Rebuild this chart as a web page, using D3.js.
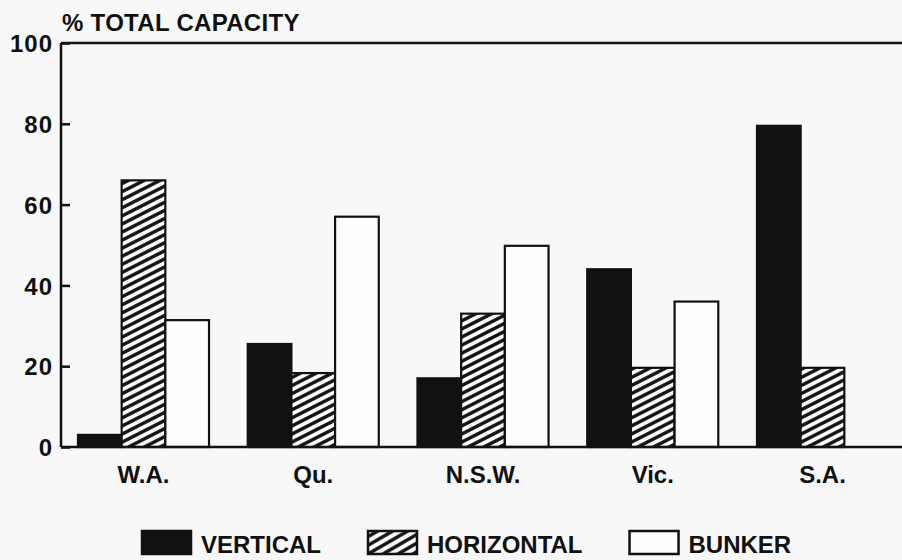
<!DOCTYPE html>
<html>
<head>
<meta charset="utf-8">
<script src="https://cdn.jsdelivr.net/npm/d3@7"></script>
<style>
  html, body { margin: 0; padding: 0; background: #f8f8f8; }
  svg { display: block; }
  text { font-family: "Liberation Sans", Arial, sans-serif; font-weight: bold; fill: #111; }
</style>
</head>
<body>
<svg id="chart" width="902" height="560"></svg>
<script>
const categories = ["W.A.", "Qu.", "N.S.W.", "Vic.", "S.A."];
const seriesNames = ["VERTICAL", "HORIZONTAL", "BUNKER"];
const vertical   = [3, 25.5, 17, 44, 79.5];
const horizontal = [66, 18.3, 33, 19.6, 19.6];
const bunker     = [31.4, 57, 49.8, 36, 0];
const yTicks = [0, 20, 40, 60, 80, 100];
const yTitle = "% TOTAL CAPACITY";

(function () {
const seriesValues = [vertical, horizontal, bunker];

const svg = d3.select("#chart");
const W = 902, H = 560;
const mLeft = 61, mRight = 905, mTop = 43, mBottom = 447;

// patterns
const defs = svg.append("defs");
function hatch(id, period, sw, angle) {
  const p = defs.append("pattern")
    .attr("id", id)
    .attr("patternUnits", "userSpaceOnUse")
    .attr("width", 10).attr("height", period)
    .attr("patternTransform", `rotate(${angle})`);
  p.append("rect").attr("width", 10).attr("height", period).attr("fill", "#fdfdfd");
  p.append("line").attr("x1", -1).attr("x2", 11)
    .attr("y1", period / 2).attr("y2", period / 2)
    .attr("stroke", "#111").attr("stroke-width", sw);
}
hatch("hatch", 7.2, 3.4, -27);
hatch("hatchLegend", 7.5, 3.4, -30);

const fills = ["#111", "url(#hatch)", "#fdfdfd"];
const legendFills = ["#111", "url(#hatchLegend)", "#fdfdfd"];

const x0 = d3.scaleBand().domain(categories).range([mLeft, mRight])
  .paddingInner(0.228).paddingOuter(0.1);
const x1 = d3.scaleBand().domain(d3.range(seriesNames.length)).range([0, x0.bandwidth()]);
const y = d3.scaleLinear().domain([0, 100]).range([mBottom, mTop]);

// bars
const groups = svg.append("g").selectAll("g")
  .data(categories).join("g")
  .attr("transform", d => `translate(${x0(d)},0)`);

groups.selectAll("rect")
  .data((c, i) => seriesValues.map((vals, s) => ({ s, v: vals[i] })).filter(d => d.v > 0))
  .join("rect")
  .attr("x", d => x1(d.s))
  .attr("y", d => y(d.v))
  .attr("width", x1.bandwidth())
  .attr("height", d => y(0) - y(d.v))
  .attr("fill", d => fills[d.s])
  .attr("stroke", "#111")
  .attr("stroke-width", 2.2);

// frame lines: top, bottom
const frame = svg.append("g").attr("stroke", "#111").attr("stroke-width", 2.5).attr("fill", "none");
frame.append("line").attr("x1", mLeft).attr("x2", W).attr("y1", y(100)).attr("y2", y(100));
frame.append("line").attr("x1", mLeft).attr("x2", W).attr("y1", y(0)).attr("y2", y(0));

// y axis with inward ticks
const yAxis = d3.axisRight(y).tickValues(yTicks).tickSize(9).tickFormat(d3.format("d"));
const ya = svg.append("g").attr("transform", `translate(${mLeft},0)`).call(yAxis);
ya.select(".domain").attr("stroke", "#111").attr("stroke-width", 2.5).attr("d", `M0,${y(0)}V${y(100)}`);
ya.selectAll(".tick line").attr("stroke", "#111").attr("stroke-width", 2.5);
ya.selectAll(".tick text")
  .attr("x", -8).attr("dy", "0.36em")
  .attr("text-anchor", "end")
  .style("font-size", "24px")
  .style("letter-spacing", "1px")
  .style("font-family", "'Liberation Sans', Arial, sans-serif")
  .style("font-weight", "bold")
  .attr("fill", "#111");

// title
svg.append("text").attr("x", 62).attr("y", 31)
  .style("font-size", "24px").style("letter-spacing", "0.3px").text(yTitle);

// category labels
const xAxis = d3.axisBottom(x0).tickSize(0).tickPadding(0);
const xa = svg.append("g").attr("transform", `translate(0,${y(0)})`).call(xAxis);
xa.select(".domain").remove();
xa.selectAll(".tick text")
  .attr("y", 36).attr("dy", 0)
  .style("font-size", "24px")
  .style("font-family", "'Liberation Sans', Arial, sans-serif")
  .style("font-weight", "bold")
  .attr("fill", "#111");

// legend
const legend = svg.append("g");
let lx = 142;
seriesNames.forEach((name, i) => {
  legend.append("rect")
    .attr("x", lx).attr("y", 531).attr("width", 49).attr("height", 23)
    .attr("fill", legendFills[i]).attr("stroke", "#111").attr("stroke-width", 2.5);
  const t = legend.append("text").attr("x", lx + 59).attr("y", 553)
    .style("font-size", "24px").text(name);
  const w = t.node().getComputedTextLength();
  lx = lx + 59 + w + 47;
});
})();
</script>
</body>
</html>
